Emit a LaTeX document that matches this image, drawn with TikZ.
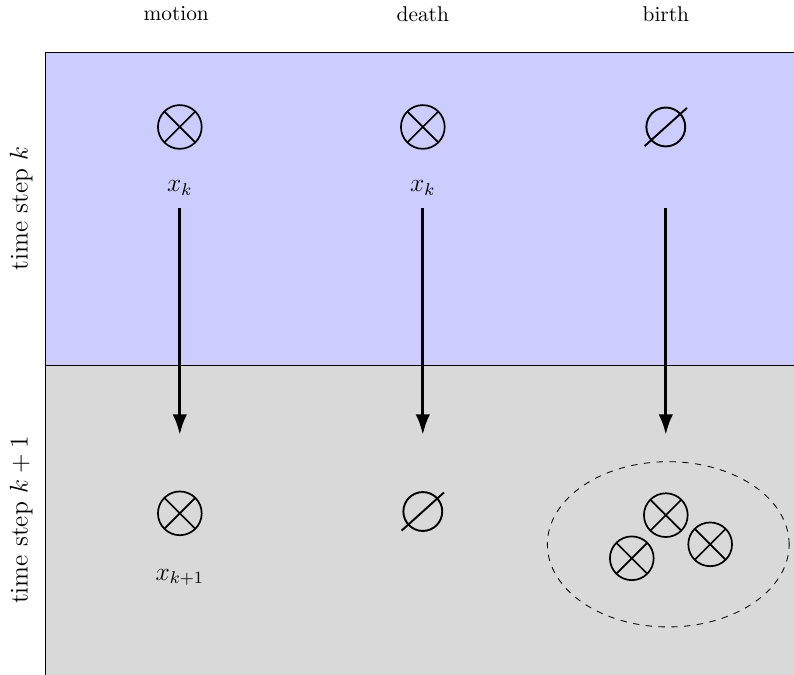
\documentclass[tikz,border=0pt]{standalone}
\usepackage{amsmath}
\usepackage{amssymb}
\usetikzlibrary{%
  arrows.meta,%
  calc,%
  positioning,% wg. " of "
  shapes%
}

\begin{document}
\begin{tikzpicture}
       \tikzset{target/.style ={circle, minimum size=0.72cm, inner sep=0pt, draw, line width=0.8pt,
                path picture={\draw[line width=0.8pt] (path picture bounding box.north west) -- (path picture bounding box.south east)
                              (path picture bounding box.north east) -- (path picture bounding box.south west);}}}

       \tikzset{empty/.style={circle, minimum size=0.64cm, inner sep=0pt, draw, line width=0.9pt}}

       \tikzset{transition/.style={-{Latex[length=3.4mm,width=2.4mm]}, line width=1.5pt}}

       \tikzset{steplabel/.style={rotate=90, font=\large}}
       \tikzset{state/.style={font=\large}}

       \useasboundingbox (-0.74,-5.10) rectangle (12.33,6.01);

       % time step panels
       \begin{scope}
        \clip (-0.74,-5.10) rectangle (12.33,6.01);
        \draw[fill=blue!20] (0,0) rectangle (13,5.14);
        \draw[fill=gray!30] (0,-6) rectangle (13,0);
       \end{scope}

        \node at (2.16,5.78) (motion) {motion};
        \node at (6.22,5.78) (death) {death};
        \node at (10.22,5.78) (birth) {birth};

        \node[steplabel] at (-0.39,2.58) (stepk) {time step $k$};
        \node[steplabel] at (-0.39,-2.55) (stepk1) {time step $k+1$};

        % time step k
        \node[target] at (2.22,3.92) (m1) {};
        \node[state, below = 0.38cm of m1] (xm1) {$x_k$};
        \node[target] at (6.22,3.92) (d1) {};
        \node[state, below = 0.38cm of d1] (xd1) {$x_k$};
        \node[empty] at (10.22,3.92) (b1) {};
        \draw[line width=0.9pt] ($(b1.center)+(-138:0.47)$) -- ($(b1.center)+(42:0.47)$);

        % time step k+1
        \node[target] at (2.22,-2.44) (m2) {};
        \node[state, below = 0.42cm of m2] (xm2) {$x_{k+1}$};
        \node[empty] at (6.22,-2.41) (d2) {};
        \draw[line width=0.9pt] ($(d2.center)+(-138:0.47)$) -- ($(d2.center)+(42:0.47)$);

        \node[draw, dashed, ellipse, minimum width=3.98cm, minimum height=2.72cm] at (10.26,-2.95) (born) {};
        \node[target] at (10.22,-2.47) (b2) {};
        \node[target] at (9.66,-3.18) (b3) {};
        \node[target] at (10.95,-2.95) (b4) {};

        \coordinate (ms) at (2.22,2.58);
        \coordinate (me) at (2.22,-1.15);
        \coordinate (ds) at (6.22,2.58);
        \coordinate (de) at (6.22,-1.15);
        \coordinate (bs) at (10.22,2.58);
        \coordinate (be) at (10.22,-1.15);

        \draw[transition] (ms) -- (me);
        \draw[transition] (ds) -- (de);
        \draw[transition] (bs) -- (be);
   \end{tikzpicture}
\end{document}
